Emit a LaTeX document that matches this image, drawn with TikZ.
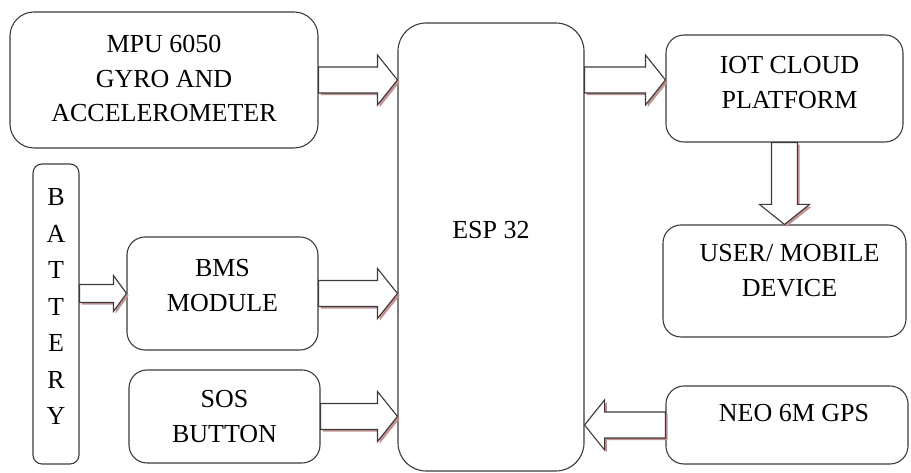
\documentclass[tikz,border=0pt]{standalone}
\usepackage{fontspec}
\setmainfont{Liberation Serif}
\usepackage{tikz}
\usetikzlibrary{arrows,positioning,calc,shadows}
\definecolor{shadowred}{RGB}{195,145,145}
\definecolor{edgegray}{RGB}{60,60,60}
\tikzstyle{block}=[draw=edgegray,line width=1.1pt,rounded corners=18pt,inner sep=0pt]
\tikzstyle{txt}=[align=center,font=\fontsize{26}{34.5}\selectfont]
\tikzset{
  blockarrow/.style n args={5}{draw=edgegray,fill=white,line width=1.1pt,
    drop shadow={shadow xshift=2.2pt,shadow yshift=-2.2pt,fill=shadowred,opacity=1},
    to path={($(\tikztostart)!#1!90:(\tikztotarget)$)
      -- ($(\tikztotarget)!#2!-#3:(\tikztostart)$)
      -- ($(\tikztotarget)!#4!-#5:(\tikztostart)$)
      -- (\tikztotarget)
      -- ($(\tikztotarget)!#4!#5:(\tikztostart)$)
      -- ($(\tikztotarget)!#2!#3:(\tikztostart)$)
      -- ($(\tikztostart)!#1!-90:(\tikztotarget)$)
      -- cycle}},
  bigarrow/.style={blockarrow={13pt}{23.85pt}{33.02}{32.02pt}{51.34}},
  smallarrow/.style={blockarrow={9pt}{15.81pt}{34.70}{22.20pt}{54.16}}
}

\begin{document}
\begin{tikzpicture}[x=1pt,y=1pt]
  \useasboundingbox (0,0) rectangle (911,473);
  % blocks
  \node [block,rounded corners=24pt,minimum width=308pt,minimum height=136pt,
    label={[txt,yshift=1.5pt]center:MPU 6050\\GYRO AND\\ACCELEROMETER}] (mpu) at (164,393) {};
  \node [block,rounded corners=28pt,minimum width=186pt,minimum height=448pt,
    label={[txt,yshift=17pt]center:ESP 32}] (esp) at (491,226) {};
  \node [block,minimum width=237pt,minimum height=107pt,
    label={[txt,xshift=5pt,yshift=6pt]center:IOT CLOUD\\PLATFORM}] (iot) at (784.5,384.5) {};
  \node [block,minimum width=243pt,minimum height=112pt,
    label={[txt,xshift=5pt,yshift=10.5pt]center:USER/ MOBILE\\DEVICE}] (user) at (784.5,192) {};
  \node [block,minimum width=242pt,minimum height=78pt,
    label={[txt,xshift=7pt,yshift=12pt]center:NEO 6M GPS}] (gps) at (787,48) {};
  \node [block,minimum width=191pt,minimum height=113pt,
    label={[txt,yshift=8pt]center:BMS\\MODULE}] (bms) at (222.5,179.5) {};
  \node [block,minimum width=191pt,minimum height=93pt,
    label={[txt]center:SOS\\BUTTON}] (sos) at (224.5,56.5) {};
  \node [block,rounded corners=9pt,minimum width=46pt,minimum height=300pt,
    label={[txt,font=\fontsize{26}{36.5}\selectfont,yshift=7.5pt]center:B\\A\\T\\T\\E\\R\\Y}] (bat) at (56,159) {};

  % block arrows
  \draw [bigarrow] (mpu.east) to (mpu.east -| esp.west);
  \draw [bigarrow] (esp.east |- mpu.east) to (iot.west |- mpu.east);
  \draw [bigarrow] (iot.south) to (user.north);
  \draw [smallarrow] (bat.east |- bms.west) to (bms.west);
  \draw [bigarrow] (bms.east) to (bms.east -| esp.west);
  \draw [bigarrow] (sos.east) to (sos.east -| esp.west);
  \draw [bigarrow] (gps.west) to (gps.west -| esp.east);
\end{tikzpicture}
\end{document}
